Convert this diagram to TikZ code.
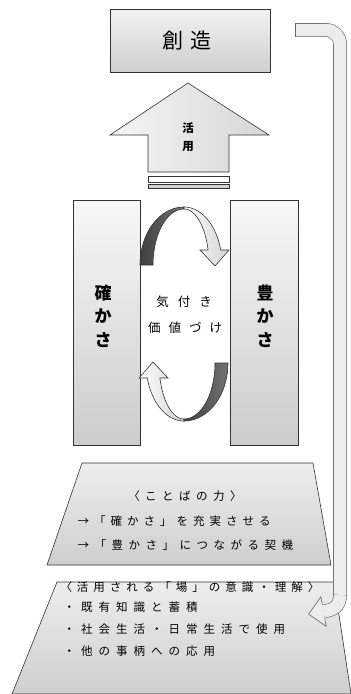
\documentclass[tikz,border=0pt]{standalone}
\usepackage{fontspec}
\newfontfamily\jp{Noto Sans CJK JP}
\makeatletter
\newcommand\spaced[2]{\def\sp@sep{\kern#1\relax}\@tfor\sp@c:=#2\do{\sp@c\sp@sep}\unkern}
\makeatother
\tikzset{
  outline/.style={draw=black!80, line width=0.6pt},
  panel/.style={outline, top color=gray!6, bottom color=gray!40},
  trap/.style={outline, top color=gray!14, bottom color=gray!38},
  darkband/.style={outline, left color=black!75, right color=black!55},
  lightband/.style={outline, left color=white, right color=gray!35},
  connector/.style={draw=black!60, line width=0.6pt, double=gray!14, double distance=12.5pt, rounded corners=14pt},
  colfont/.style={font=\jp\bfseries\fontsize{17}{23.5}\selectfont, align=center},
  midfont/.style={font=\jp\fontsize{12.5}{12.5}\selectfont},
  trfont/.style={font=\jp\fontsize{11.5}{11.5}\selectfont},
}
\begin{document}
\begin{tikzpicture}[x=1pt,y=-1pt]
\useasboundingbox (0,0) rectangle (351,694);

% top box
\path[outline, top color=gray!10, bottom color=gray!38] (110,9) rectangle (270,72);
\node[font=\jp\fontsize{21}{21}\selectfont] (souzou) at (187,41) {創\kern7pt 造};

% up arrow
\path[outline, left color=gray!8, right color=gray!32]
  (188,83) -- (269,135) -- (229,135) -- (229,172) -- (148,172) -- (148,135) -- (110,135) -- cycle;
\path[outline, fill=white] (148,176) rectangle (229,182);
\path[outline, fill=gray!35] (148,184) rectangle (229,188);
\node[font=\jp\bfseries\fontsize{11.5}{11.5}\selectfont] (katsu) at (188,128) {活};
\node[font=\jp\bfseries\fontsize{11.5}{11.5}\selectfont] (you) at (188,147) {用};

% columns
\path[panel] (73,200) rectangle (140,445);
\path[panel] (230,200) rectangle (298,445);
\node[colfont] (tashika) at (103,316) {確\\か\\さ};
\node[colfont] (yutaka) at (265,316) {豊\\か\\さ};

% centre text
\node[midfont] (kizuki) at (184,302) {\spaced{9pt}{気付き}};
\node[midfont] (kachi) at (185,328) {\spaced{8pt}{価値づけ}};

% circular arrows
\begin{scope}
  \path[darkband] plot[domain=180:270,samples=30] ({184+44*cos(\x)},{265+58*sin(\x)})
     -- plot[domain=270:180,samples=30] ({184+31*cos(\x)},{265+56*sin(\x)}) -- cycle;
  \path[lightband] plot[domain=270:345,samples=30] ({184+38*cos(\x)},{265+58*sin(\x)})
     -- (229,250) -- (215,266) -- (200,250)
     -- plot[domain=344.5:270,samples=30] ({184+25*cos(\x)},{265+56*sin(\x)}) -- cycle;
\end{scope}
\begin{scope}[rotate around={180:(184,314)}]
  \path[darkband] plot[domain=180:270,samples=30] ({184+44*cos(\x)},{265+58*sin(\x)})
     -- plot[domain=270:180,samples=30] ({184+31*cos(\x)},{265+56*sin(\x)}) -- cycle;
  \path[lightband] plot[domain=270:345,samples=30] ({184+38*cos(\x)},{265+58*sin(\x)})
     -- (229,250) -- (215,266) -- (200,250)
     -- plot[domain=344.5:270,samples=30] ({184+25*cos(\x)},{265+56*sin(\x)}) -- cycle;
\end{scope}

% trapezoid 1
\path[trap] (82,463) -- (313,463) -- (331,565) -- (47,565) -- cycle;
\node[trfont] (kotoba) at (185,496) {\spaced{5.5pt}{〈ことばの力〉}};
\node[trfont, anchor=west] (l1) at (74,521) {\spaced{5pt}{→「確かさ」を充実させる}};
\node[trfont, anchor=west] (l2) at (74,545) {\spaced{5.5pt}{→「豊かさ」につながる契機}};

% trapezoid 2
\path[trap] (57,582) -- (334,582) -- (351,694) -- (12,694) -- cycle;
\node[trfont] (ba) at (190,587) {\spaced{5pt}{〈活用される「場」の意識・理解〉}};
\node[trfont, anchor=west] (m1) at (60,607) {\spaced{6pt}{・既有知識と蓄積}};
\node[trfont, anchor=west] (m2) at (60,629) {\spaced{6pt}{・社会生活・日常生活で使用}};
\node[trfont, anchor=west] (m3) at (60,651) {\spaced{6pt}{・他の事柄への応用}};

% connector
\coordinate (cs) at (295,30);
\coordinate (ce) at (323.5,611.5);
\draw[connector] (cs) -- (340,30) -- (340,596);
\draw[draw=black!60, line width=0.6pt, double=gray!14, double distance=12.5pt]
  (340,595) .. controls (340,607) and (333,609.8) .. (ce);
\draw[draw=black!60, line width=0.6pt] (295,23.4) -- (295,36.6);
\path[draw=black!60, line width=0.6pt, fill=gray!14]
  (322.3,604.6) -- (320.9,596.7) -- (308.7,614.1) -- (326.1,626.3) -- (324.7,618.4);
\end{tikzpicture}
\end{document}
